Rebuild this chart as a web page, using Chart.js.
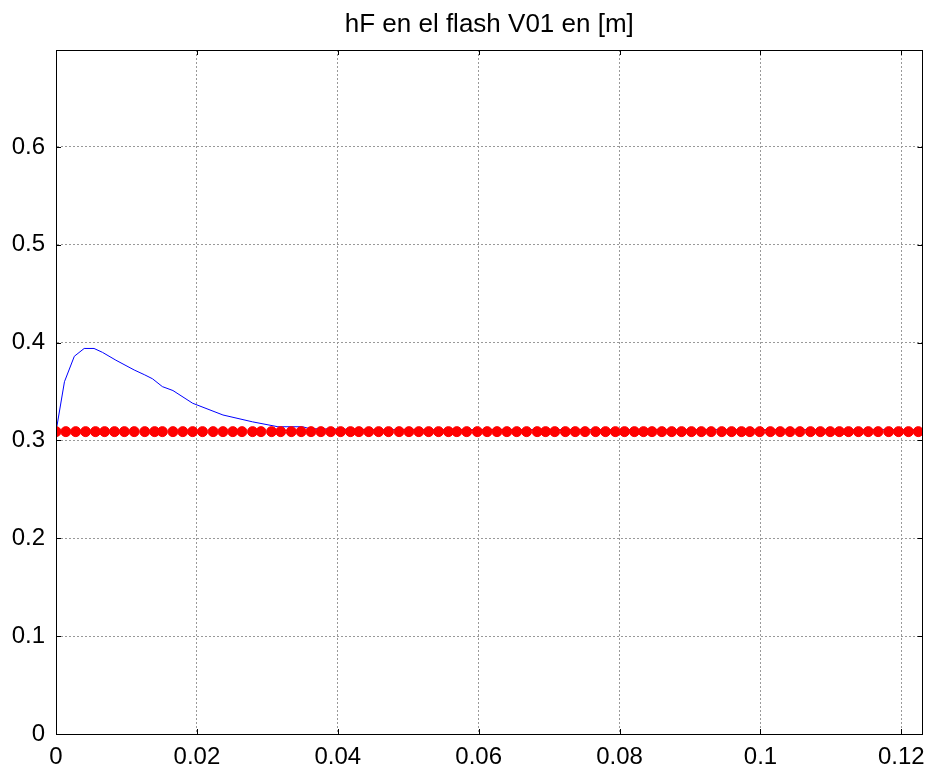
<!DOCTYPE html>
<html lang="es">
<head>
    <meta charset="UTF-8">
    <title>hF en el flash V01</title>
    <script src="https://cdn.jsdelivr.net/npm/chart.js@4.4.1/dist/chart.umd.min.js"></script>
    <style>
        body {
            margin: 0;
            background-color: #ffffff;
        }
        #chart-box {
            width: 934px;
            height: 776px;
        }
    </style>
</head>
<body>
    <div id="chart-box">
        <canvas id="hf-chart" width="934" height="776"></canvas>
    </div>
    <script>
        // Simulated level (blue line)
        const simTime = [0, 0.0012, 0.0026, 0.0040, 0.0054, 0.0066, 0.0085, 0.0111, 0.0126, 0.0137,
            0.0151, 0.0166, 0.0194, 0.0237, 0.0279, 0.0315, 0.0350, 0.0360, 0.045, 0.06, 0.08, 0.1, 0.123];
        const simLevel = [0.309, 0.360, 0.386, 0.394, 0.394, 0.390, 0.382, 0.372, 0.367, 0.363,
            0.355, 0.351, 0.338, 0.326, 0.319, 0.314, 0.314, 0.312, 0.311, 0.311, 0.311, 0.311, 0.311];

        // Setpoint samples (red dots)
        const spTime = [0, 0.0014, 0.0028, 0.0042, 0.0056, 0.0069, 0.0083, 0.0097, 0.0111, 0.0126,
            0.0140, 0.0151, 0.0166, 0.0180, 0.0194, 0.0208, 0.0223, 0.0237, 0.0251, 0.0264,
            0.0279, 0.0291, 0.0306, 0.0319, 0.0334, 0.0348, 0.0362, 0.0376, 0.0390, 0.0404,
            0.0418, 0.0430, 0.0444, 0.0458, 0.0472, 0.0487, 0.0501, 0.0515, 0.0529, 0.0543,
            0.0557, 0.0569, 0.0583, 0.0598, 0.0612, 0.0626, 0.0640, 0.0654, 0.0668, 0.0683,
            0.0695, 0.0708, 0.0723, 0.0737, 0.0751, 0.0766, 0.0780, 0.0794, 0.0807, 0.0821,
            0.0834, 0.0846, 0.0860, 0.0874, 0.0888, 0.0902, 0.0916, 0.0930, 0.0945, 0.0959,
            0.0973, 0.0985, 0.0999, 0.1014, 0.1028, 0.1042, 0.1056, 0.1071, 0.1085, 0.1099,
            0.1112, 0.1125, 0.1139, 0.1153, 0.1167, 0.1182, 0.1196, 0.1210, 0.1224];
        const spLevel = 0.309;

        const xTicks = [0, 0.02, 0.04, 0.06, 0.08, 0.1, 0.12];
        const yTicks = [0, 0.1, 0.2, 0.3, 0.4, 0.5, 0.6];

        const xMax = 0.123;
        const yMax = 0.699;

        // MATLAB style box with inward ticks
        const matlabBox = {
            id: 'matlabBox',
            afterDraw(chart) {
                const ctx = chart.ctx;
                const a = chart.chartArea;
                const xs = chart.scales.x;
                const ys = chart.scales.y;
                const len = 5;
                ctx.save();
                ctx.strokeStyle = '#000';
                ctx.lineWidth = 1;
                ctx.setLineDash([]);
                ctx.strokeRect(Math.round(a.left) + 0.5, Math.round(a.top) + 0.5,
                    Math.round(a.right - a.left), Math.round(a.bottom - a.top));
                ctx.beginPath();
                xTicks.forEach(v => {
                    const px = Math.round(xs.getPixelForValue(v)) + 0.5;
                    ctx.moveTo(px, a.bottom);
                    ctx.lineTo(px, a.bottom - len);
                    ctx.moveTo(px, a.top);
                    ctx.lineTo(px, a.top + len);
                });
                yTicks.forEach(v => {
                    const py = Math.round(ys.getPixelForValue(v)) + 0.5;
                    ctx.moveTo(a.left, py);
                    ctx.lineTo(a.left + len, py);
                    ctx.moveTo(a.right, py);
                    ctx.lineTo(a.right - len, py);
                });
                ctx.stroke();
                ctx.restore();
            }
        };

        const ctx = document.getElementById('hf-chart').getContext('2d');
        new Chart(ctx, {
            type: 'scatter',
            data: {
                datasets: [{
                    label: 'consigna',
                    data: spTime.map(t => ({ x: t, y: spLevel })),
                    showLine: false,
                    pointRadius: 5,
                    pointBackgroundColor: '#ff0000',
                    pointBorderColor: '#ff0000',
                    pointBorderWidth: 1,
                    order: 0
                }, {
                    label: 'hF',
                    data: simTime.map((t, i) => ({ x: t, y: simLevel[i] })),
                    showLine: true,
                    borderColor: '#0000ff',
                    borderWidth: 1,
                    pointRadius: 0,
                    tension: 0,
                    order: 1
                }]
            },
            options: {
                responsive: false,
                animation: false,
                layout: {
                    padding: { left: 0, right: 10, top: 0, bottom: 0 }
                },
                plugins: {
                    legend: { display: false },
                    tooltip: { enabled: false },
                    title: {
                        display: true,
                        fullSize: false,
                        text: 'hF en el flash V01 en [m]',
                        color: '#000',
                        font: { family: 'Liberation Sans, Arial, sans-serif', size: 26, weight: 'normal', lineHeight: 1.2 },
                        padding: { top: 9, bottom: 9.8 }
                    }
                },
                scales: {
                    x: {
                        type: 'linear',
                        min: 0,
                        max: xMax,
                        afterBuildTicks: scale => { scale.ticks = xTicks.map(v => ({ value: v })); },
                        afterFit: scale => { scale.height = 42; },
                        grid: {
                            color: '#999999',
                            drawTicks: false
                        },
                        // in v4 border.dash also sets the grid line dash
                        border: { display: true, color: '#000', dash: [2, 2] },
                        ticks: {
                            color: '#000',
                            padding: 9,
                            maxRotation: 0,
                            font: { family: 'Liberation Sans, Arial, sans-serif', size: 24 },
                            callback: v => String(v)
                        }
                    },
                    y: {
                        type: 'linear',
                        min: 0,
                        max: yMax,
                        afterBuildTicks: scale => { scale.ticks = yTicks.map(v => ({ value: v })); },
                        afterFit: scale => { scale.width = 56; },
                        grid: {
                            color: '#999999',
                            drawTicks: false
                        },
                        border: { display: true, color: '#000', dash: [2, 2] },
                        ticks: {
                            color: '#000',
                            padding: 11,
                            font: { family: 'Liberation Sans, Arial, sans-serif', size: 24 },
                            callback: v => String(v)
                        }
                    }
                }
            },
            plugins: [matlabBox]
        });
    </script>
</body>
</html>
